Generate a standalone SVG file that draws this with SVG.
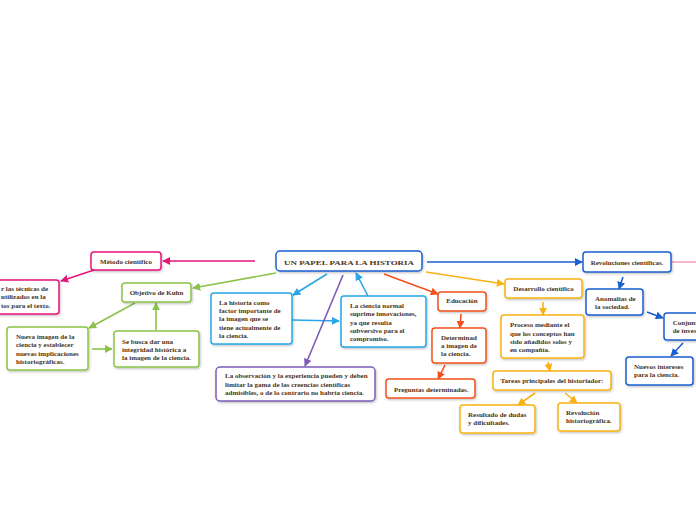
<svg xmlns="http://www.w3.org/2000/svg" width="696" height="520" viewBox="0 0 696 520">
<defs>
<filter id="sh" x="-10%" y="-10%" width="130%" height="140%"><feDropShadow dx="0.8" dy="1.2" stdDeviation="0.8" flood-color="#000" flood-opacity="0.25"/></filter>
<marker id="aPk" viewBox="0 0 10 10" refX="9" refY="5" markerWidth="5" markerHeight="5" orient="auto"><path d="M0,0L10,5L0,10z" fill="#e8157a"/></marker>
<marker id="aGr" viewBox="0 0 10 10" refX="9" refY="5" markerWidth="5" markerHeight="5" orient="auto"><path d="M0,0L10,5L0,10z" fill="#8bc34a"/></marker>
<marker id="aLb" viewBox="0 0 10 10" refX="9" refY="5" markerWidth="5" markerHeight="5" orient="auto"><path d="M0,0L10,5L0,10z" fill="#29a6e6"/></marker>
<marker id="aPu" viewBox="0 0 10 10" refX="9" refY="5" markerWidth="5" markerHeight="5" orient="auto"><path d="M0,0L10,5L0,10z" fill="#7e5cb8"/></marker>
<marker id="aOr" viewBox="0 0 10 10" refX="9" refY="5" markerWidth="5" markerHeight="5" orient="auto"><path d="M0,0L10,5L0,10z" fill="#f4511e"/></marker>
<marker id="aYe" viewBox="0 0 10 10" refX="9" refY="5" markerWidth="5" markerHeight="5" orient="auto"><path d="M0,0L10,5L0,10z" fill="#f9b115"/></marker>
<marker id="aBl" viewBox="0 0 10 10" refX="9" refY="5" markerWidth="5" markerHeight="5" orient="auto"><path d="M0,0L10,5L0,10z" fill="#1a5fd0"/></marker>
</defs>
<style>
.n{fill:#fff;stroke-width:1.5;filter:url(#sh)}
.t{font-family:"Liberation Serif","DejaVu Serif",serif;font-weight:bold;font-size:7px;fill:#4a3419}
.c{text-anchor:middle}
.pk{stroke:#e8157a}.gr{stroke:#8bc34a}.lb{stroke:#29a6e6}.pu{stroke:#7e5cb8}.or{stroke:#f4511e}.ye{stroke:#f9b115}.bl{stroke:#1a5fd0}
.e{fill:none;stroke-width:1.6}
</style>
<g id="connectors">
<path class="e pk" d="M255,261L163,261" marker-end="url(#aPk)"/>
<path class="e pk" d="M94,270L61,281" marker-end="url(#aPk)"/>
<path class="e" d="M672,262L696,262" stroke="#f7a1c4"/>
<path class="e gr" d="M276,273L193,288" marker-end="url(#aGr)"/>
<path class="e gr" d="M135,303L89,328" marker-end="url(#aGr)"/>
<path class="e gr" d="M92,349L112,349" marker-end="url(#aGr)"/>
<path class="e gr" d="M156,330L156,303" marker-end="url(#aGr)"/>
<path class="e lb" d="M327,274L293,295" marker-end="url(#aLb)"/>
<path class="e lb" d="M292,320L339,321" marker-end="url(#aLb)"/>
<path class="e lb" d="M368,296L356,273" marker-end="url(#aLb)"/>
<path class="e pu" d="M343,275L305,366" marker-end="url(#aPu)"/>
<path class="e or" d="M384,274L438,294" marker-end="url(#aOr)"/>
<path class="e or" d="M461,314L460,328" marker-end="url(#aOr)"/>
<path class="e or" d="M445,365L438,379" marker-end="url(#aOr)"/>
<path class="e ye" d="M426,272L504,284" marker-end="url(#aYe)"/>
<path class="e ye" d="M543,302L543,315" marker-end="url(#aYe)"/>
<path class="e ye" d="M548,362L550,371" marker-end="url(#aYe)"/>
<path class="e ye" d="M535,393L518,405" marker-end="url(#aYe)"/>
<path class="e ye" d="M565,393L577,403" marker-end="url(#aYe)"/>
<path class="e bl" d="M427,262L582,262" marker-end="url(#aBl)"/>
<path class="e bl" d="M623,277L619,289" marker-end="url(#aBl)"/>
<path class="e bl" d="M647,312L663,318" marker-end="url(#aBl)"/>
<path class="e bl" d="M683,343L671,356" marker-end="url(#aBl)"/>
</g>
<g id="root"><rect class="n bl" x="276" y="251" width="146" height="20" rx="4"/><text class="t" x="284" y="265" font-size="11px" textLength="130" lengthAdjust="spacingAndGlyphs">UN PAPEL PARA LA HISTORIA</text></g>
<g id="metodo"><rect class="n pk" x="91" y="252" width="70" height="18" rx="3"/><text class="t c" x="126" y="263.5">Método científico</text></g>
<g id="tecnicas"><rect class="n pk" x="-10" y="280" width="69" height="34" rx="3"/><text class="t" x="1" y="290.5">r las técnicas de</text><text class="t" x="1" y="299">utilizados en la</text><text class="t" x="1" y="307.5">tos para el texto.</text></g>
<g id="objetivo"><rect class="n gr" x="122" y="283" width="69" height="19" rx="3"/><text class="t c" x="156.5" y="295">Objetivo de Kuhn</text></g>
<g id="nueva"><rect class="n gr" x="7" y="327" width="81" height="43" rx="3"/><text class="t" x="16" y="339">Nueva imagen de la</text><text class="t" x="16" y="347.3">ciencia y establecer</text><text class="t" x="16" y="355.6">nuevas implicaciones</text><text class="t" x="16" y="363.9">historiográficas.</text></g>
<g id="sebusca"><rect class="n gr" x="114" y="331" width="85" height="36" rx="3"/><text class="t" x="122" y="343.5">Se busca dar una</text><text class="t" x="122" y="351.5">integridad histórica a</text><text class="t" x="122" y="359.5">la imagen de la ciencia.</text></g>
<g id="historia"><rect class="n lb" x="211" y="293" width="81" height="51" rx="3"/><text class="t" x="219" y="304.5">La historia como</text><text class="t" x="219" y="313">factor importante de</text><text class="t" x="219" y="321.3">la imagen que se</text><text class="t" x="219" y="329.6">tiene actualmente de</text><text class="t" x="219" y="337.9">la ciencia.</text></g>
<g id="ciencianormal"><rect class="n lb" x="341" y="296" width="85" height="51" rx="3"/><text class="t" x="350" y="308.3">La ciencia normal</text><text class="t" x="350" y="316.4">suprime innovaciones,</text><text class="t" x="350" y="324.5">ya que resulta</text><text class="t" x="350" y="332.6">subversivo para el</text><text class="t" x="350" y="340.7">compromiso.</text></g>
<g id="observacion"><rect class="n pu" x="216" y="367" width="159" height="34" rx="4"/><text class="t" x="225" y="378.3">La observación y la experiencia pueden y deben</text><text class="t" x="225" y="386.6">limitar la gama de las creencias científicas</text><text class="t" x="225" y="394.9">admisibles, o de lo contrario no habría ciencia.</text></g>
<g id="educacion"><rect class="n or" x="438" y="292" width="48" height="19" rx="3"/><text class="t c" x="462" y="303.3">Educación</text></g>
<g id="determinada"><rect class="n or" x="432" y="328" width="54" height="35" rx="3"/><text class="t" x="441" y="340">Determinad</text><text class="t" x="441" y="348">a imagen de</text><text class="t" x="441" y="356">la ciencia.</text></g>
<g id="preguntas"><rect class="n or" x="386" y="379" width="89" height="19" rx="3"/><text class="t" x="394" y="391.5">Preguntas determinadas.</text></g>
<g id="desarrollo"><rect class="n ye" x="505" y="279" width="77" height="19" rx="3"/><text class="t c" x="543.5" y="290.5">Desarrollo científico</text></g>
<g id="proceso"><rect class="n ye" x="501" y="315" width="83" height="43" rx="3"/><text class="t" x="510" y="327.3">Proceso mediante el</text><text class="t" x="510" y="335.6">que los conceptos han</text><text class="t" x="510" y="343.6">sido añadidos solos y</text><text class="t" x="510" y="351.6">en compañía.</text></g>
<g id="tareas"><rect class="n ye" x="493" y="371" width="118" height="19" rx="3"/><text class="t c" x="552" y="383.3">Tareas principales del historiador:</text></g>
<g id="resultado"><rect class="n ye" x="460" y="405" width="75" height="28" rx="3"/><text class="t" x="468" y="416.6">Resultado de dudas</text><text class="t" x="468" y="425">y dificultades.</text></g>
<g id="revolucionh"><rect class="n ye" x="558" y="403" width="62" height="28" rx="3"/><text class="t" x="566" y="415">Revolución</text><text class="t" x="566" y="423.3">historiográfica.</text></g>
<g id="revoluciones"><rect class="n bl" x="583" y="252" width="88" height="20" rx="3"/><text class="t c" x="627" y="265">Revoluciones científicas.</text></g>
<g id="anomalias"><rect class="n bl" x="586" y="289" width="57" height="26" rx="3"/><text class="t" x="595" y="300.6">Anomalías de</text><text class="t" x="595" y="308.6">la sociedad.</text></g>
<g id="conjunto"><rect class="n bl" x="664" y="313" width="50" height="27" rx="3"/><text class="t" x="672.7" y="325.3">Conjunto</text><text class="t" x="672.7" y="333.3">de investigaciones</text></g>
<g id="nuevos"><rect class="n bl" x="626" y="357" width="67" height="28" rx="3"/><text class="t" x="634" y="369.3">Nuevos intereses</text><text class="t" x="634" y="377.3">para la ciencia.</text></g>
</svg>
